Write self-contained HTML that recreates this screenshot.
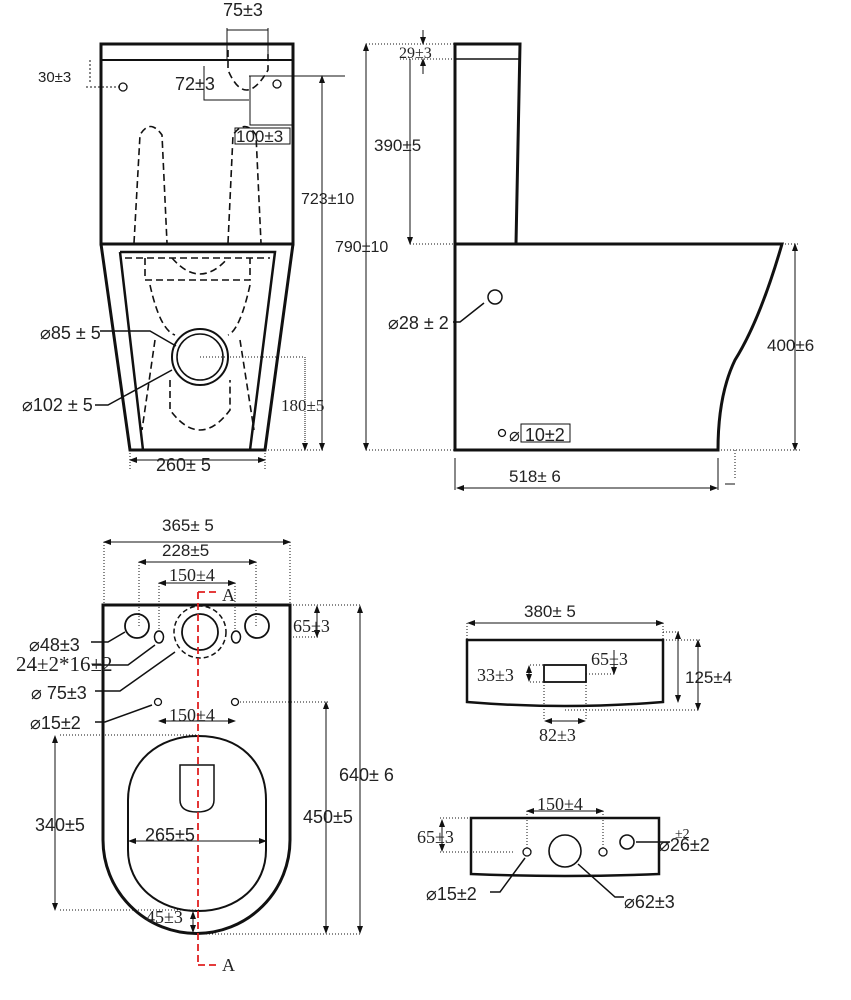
<!DOCTYPE html>
<html><head><meta charset="utf-8"><style>
body{margin:0;background:#fff}
svg{display:block}
text{font-family:"Liberation Sans",sans-serif;fill:#222}
.s{font-family:"Liberation Serif",serif}
</style></head><body>
<svg width="851" height="1000" viewBox="0 0 851 1000" xmlns="http://www.w3.org/2000/svg">
<defs><marker id="a" markerWidth="8" markerHeight="6" refX="7" refY="3" orient="auto-start-reverse"><path d="M0,0L8,3L0,6z" fill="#111"/></marker></defs>
<g fill="none" stroke="#111">
<rect x="101" y="44" width="192" height="200" stroke-width="3"/>
<line x1="101" y1="60" x2="293" y2="60" stroke-width="2"/>
<path d="M101,244L130,450L265,450L293,244" stroke-width="3"/>
<path d="M120,252L275,252L250,450M120,252L143,450" stroke-width="2.5"/>
<line x1="143" y1="450" x2="250" y2="450" stroke-width="1"/>
<g stroke-dasharray="7,4" stroke-width="1.6">
<path d="M134,243L140,135Q150,118 162,135L167,243"/>
<path d="M228,243L233,135Q245,118 256,135L261,243"/>
<path d="M228,50L228,70Q245,110 268,70L268,50" />
<path d="M125,258L270,258M145,258L145,280L250,280L250,258M150,285Q160,330 175,335M250,285Q240,330 228,335"/>
<path d="M172,258Q200,290 228,258"/>
<path d="M155,340L142,430M240,340L254,430M170,380L170,410Q200,450 230,410L230,380"/>
</g>
<circle cx="200" cy="357" r="28" stroke-width="2"/>
<circle cx="200" cy="357" r="23" stroke-width="1.6"/>
<circle cx="123" cy="87" r="4" stroke-width="1.3"/>
<circle cx="277" cy="84" r="4" stroke-width="1.3"/>
<g stroke-width="1">
<path d="M227,30L268,30M227,28L227,60M268,28L268,60M204,66L204,100L249,100M249,76L345,76M250,76L250,125L293,125M293,120L293,130M235,128L290,128L290,144L235,144Z"/>
<line x1="322" y1="76" x2="322" y2="450" marker-start="url(#a)" marker-end="url(#a)"/>
<line x1="305" y1="357" x2="305" y2="450" marker-end="url(#a)" stroke-dasharray="1,1"/>
<line x1="200" y1="357" x2="305" y2="357" stroke-dasharray="1,2"/>
<line x1="265" y1="450" x2="325" y2="450" stroke-dasharray="1,2"/>
<line x1="130" y1="460" x2="265" y2="460" marker-start="url(#a)" marker-end="url(#a)"/>
<path d="M130,450L130,470M265,450L265,470" stroke-dasharray="1,2"/>
<path d="M90,60L90,84M86,87L120,87" stroke-dasharray="2,2"/>
<path d="M100,331L150,331L176,346M95,405L108,405L172,370" stroke-width="1.5"/>
</g>
<path d="M455,244L455,44L520,44L516,244" stroke-width="3"/>
<line x1="455" y1="59" x2="519" y2="59" stroke-width="1.5"/>
<path d="M455,244L782,244Q760,320 735,360Q718,395 718,450L455,450Z" stroke-width="3"/>
<circle cx="495" cy="297" r="7" stroke-width="1.5"/>
<circle cx="502" cy="433" r="3.5" stroke-width="1.3"/>
<rect x="521" y="424" width="49" height="18" stroke-width="1"/>
<g stroke-width="1">
<line x1="366" y1="44" x2="366" y2="450" marker-start="url(#a)" marker-end="url(#a)"/>
<line x1="410" y1="59" x2="410" y2="244" marker-end="url(#a)"/>
<line x1="423" y1="30" x2="423" y2="44" marker-end="url(#a)"/>
<line x1="423" y1="74" x2="423" y2="59" marker-end="url(#a)"/>
<path d="M366,44L455,44M400,59L455,59M410,244L455,244M366,450L455,450M782,244L800,244M718,450L800,450M735,450L735,480" stroke-dasharray="1,2"/>
<line x1="795" y1="244" x2="795" y2="450" marker-start="url(#a)" marker-end="url(#a)"/>
<line x1="457" y1="488" x2="717" y2="488" marker-start="url(#a)" marker-end="url(#a)"/>
<path d="M455,458L455,490M718,458L718,490M725,484L735,484"/>
<path d="M453,322L460,322L484,303" stroke-width="1.5"/>
</g>
<path d="M103,605L290,605L290,840A93.5,93.5 0 0 1 103,840Z" stroke-width="3"/>
<path d="M198,736C240,736 266,762 266,800L266,850C266,885 238,911 198,911C158,911 128,885 128,850L128,800C128,762 158,736 198,736Z" stroke-width="2"/>
<path d="M180,765L214,765L214,800Q214,812 197,812Q180,812 180,800Z" stroke-width="1.5"/>
<circle cx="137" cy="626" r="12" stroke-width="1.8"/>
<circle cx="257" cy="626" r="12" stroke-width="1.8"/>
<circle cx="200" cy="632" r="18" stroke-width="1.8"/>
<circle cx="200" cy="632" r="26" stroke-width="1.5" stroke-dasharray="5,3"/>
<ellipse cx="159" cy="637" rx="4.5" ry="6" stroke-width="1.5"/>
<ellipse cx="236" cy="637" rx="4.5" ry="6" stroke-width="1.5"/>
<circle cx="158" cy="702" r="3.5" stroke-width="1.3"/>
<circle cx="235" cy="702" r="3.5" stroke-width="1.3"/>
<g stroke-width="1">
<line x1="104" y1="542" x2="290" y2="542" marker-start="url(#a)" marker-end="url(#a)"/>
<line x1="139" y1="562" x2="256" y2="562" marker-start="url(#a)" marker-end="url(#a)"/>
<line x1="159" y1="583" x2="235" y2="583" marker-start="url(#a)" marker-end="url(#a)"/>
<line x1="159" y1="721" x2="235" y2="721" marker-start="url(#a)" marker-end="url(#a)"/>
<line x1="129" y1="841" x2="266" y2="841" marker-start="url(#a)" marker-end="url(#a)"/>
<path d="M104,542L104,605M290,542L290,605M139,562L139,626M256,562L256,626M159,583L159,630M235,583L235,630M290,605L360,605M290,637L320,637M240,702L330,702M60,735L200,735M60,910L200,910M200,934L360,934" stroke-dasharray="1,2"/>
<line x1="317" y1="606" x2="317" y2="637" marker-start="url(#a)" marker-end="url(#a)"/>
<line x1="360" y1="606" x2="360" y2="933" marker-start="url(#a)" marker-end="url(#a)"/>
<line x1="326" y1="702" x2="326" y2="933" marker-start="url(#a)" marker-end="url(#a)"/>
<line x1="55" y1="736" x2="55" y2="910" marker-start="url(#a)" marker-end="url(#a)"/>
<line x1="193" y1="912" x2="193" y2="932" marker-start="url(#a)" marker-end="url(#a)"/>
<path d="M91,642L108,642L125,632M92,665L128,665L155,645M95,691L120,691L175,652M95,722L105,722L152,705" stroke-width="1.5"/>
</g>
<path d="M198,592L198,965M198,592L220,592M198,965L220,965" stroke="#e02020" stroke-width="1.8" stroke-dasharray="7,4"/>
<path d="M467,640L663,640L663,702Q565,710 467,702Z" stroke-width="2.5"/>
<rect x="544" y="665" width="42" height="17" stroke-width="1.8"/>
<g stroke-width="1">
<line x1="468" y1="623" x2="663" y2="623" marker-start="url(#a)" marker-end="url(#a)"/>
<path d="M467,623L467,640M663,623L663,640M663,632L680,632M663,640L700,640M565,710L700,710M530,665L544,665M530,682L544,682M586,674L615,674M544,682L544,720M586,682L586,720" stroke-dasharray="1,2"/>
<line x1="678" y1="632" x2="678" y2="702" marker-start="url(#a)" marker-end="url(#a)"/>
<line x1="698" y1="640" x2="698" y2="710" marker-start="url(#a)" marker-end="url(#a)"/>
<line x1="614" y1="650" x2="614" y2="674" marker-end="url(#a)"/>
<line x1="529" y1="666" x2="529" y2="681" marker-start="url(#a)" marker-end="url(#a)"/>
<line x1="545" y1="721" x2="585" y2="721" marker-start="url(#a)" marker-end="url(#a)"/>
</g>
<path d="M471,818L659,818L659,874Q565,878 471,874Z" stroke-width="2.5"/>
<circle cx="565" cy="851" r="16" stroke-width="1.6"/>
<circle cx="527" cy="852" r="4" stroke-width="1.3"/>
<circle cx="603" cy="852" r="4" stroke-width="1.3"/>
<circle cx="627" cy="842" r="7" stroke-width="1.6"/>
<g stroke-width="1">
<line x1="527" y1="811" x2="603" y2="811" marker-start="url(#a)" marker-end="url(#a)"/>
<path d="M527,811L527,848M603,811L603,848M440,818L471,818M440,852L515,852" stroke-dasharray="1,2"/>
<line x1="442" y1="820" x2="442" y2="851" marker-start="url(#a)" marker-end="url(#a)"/>
<path d="M490,892L500,892L525,858M624,897L615,897L578,864M670,842L636,842" stroke-width="1.5"/>
</g>
</g>
<g font-size="17">
<text x="223" y="16" font-size="18">75±3</text>
<text x="38" y="82" font-size="15">30±3</text>
<text x="175" y="90" font-size="18">72±3</text>
<text x="236" y="142" font-size="17">100±3</text>
<text x="301" y="204" font-size="16">723±10</text>
<text x="335" y="252" font-size="16">790±10</text>
<text x="40" y="339" font-size="18">⌀85 ± 5</text>
<text x="22" y="411" font-size="18">⌀102 ± 5</text>
<text x="281" y="411" class="s">180±5</text>
<text x="156" y="471" font-size="18">260± 5</text>
<text x="399" y="58" font-size="16" class="s">29±3</text>
<text x="374" y="151">390±5</text>
<text x="388" y="329" font-size="18">⌀28 ± 2</text>
<text x="509" y="441" font-size="18">⌀ 10±2</text>
<text x="767" y="351">400±6</text>
<text x="509" y="482">518± 6</text>
<text x="162" y="531">365± 5</text>
<text x="162" y="556">228±5</text>
<text x="169" y="581" class="s" font-size="18">150±4</text>
<text x="222" y="601" class="s" font-size="18">A</text>
<text x="293" y="632" class="s" font-size="18">65±3</text>
<text x="29" y="651" font-size="18">⌀48±3</text>
<text x="16" y="671" class="s" font-size="21">24±2*16±2</text>
<text x="31" y="699" font-size="18">⌀ 75±3</text>
<text x="30" y="729" font-size="18">⌀15±2</text>
<text x="169" y="721" class="s" font-size="18">150±4</text>
<text x="339" y="781" font-size="18">640± 6</text>
<text x="303" y="823" font-size="18">450±5</text>
<text x="35" y="831" font-size="18">340±5</text>
<text x="145" y="841" font-size="18">265±5</text>
<text x="146" y="923" class="s" fill="#555" font-size="18">45±3</text>
<text x="222" y="971" class="s" font-size="18">A</text>
<text x="524" y="617">380± 5</text>
<text x="591" y="665" class="s" font-size="18">65±3</text>
<text x="477" y="681" class="s" font-size="18">33±3</text>
<text x="685" y="683">125±4</text>
<text x="539" y="741" class="s" font-size="18">82±3</text>
<text x="537" y="810" class="s" font-size="18">150±4</text>
<text x="417" y="843" class="s" font-size="18">65±3</text>
<text x="675" y="838" class="s" font-size="14">±2</text>
<text x="659" y="851" font-size="18">⌀26±2</text>
<text x="426" y="900" font-size="18">⌀15±2</text>
<text x="624" y="908" font-size="18">⌀62±3</text>
</g>
</svg>
</body></html>
